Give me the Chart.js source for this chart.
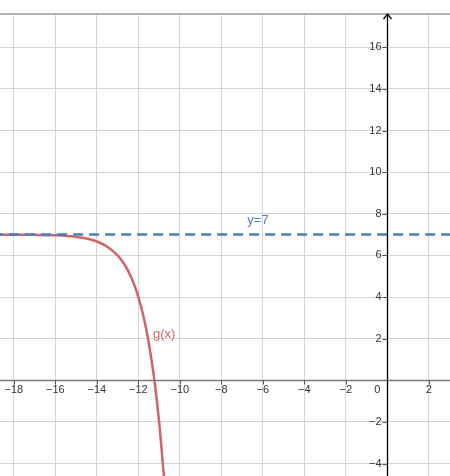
<!DOCTYPE html>
<html>
<head>
<meta charset="utf-8">
<script src="https://cdn.jsdelivr.net/npm/chart.js@4.4.1/dist/chart.umd.min.js"></script>
<style>
html, body { margin: 0; padding: 0; background: #fff; }
#wrap { width: 450px; height: 476px; }
</style>
</head>
<body>
<div id="wrap"><canvas id="c"></canvas></div>
<script>
// values
const curveX = [-18.7, -18, -17, -16, -15, -14.5, -14, -13.5, -13, -12.75, -12.5, -12.25, -12, -11.75, -11.5, -11.25, -11, -10.75];
const curveY = [6.998, 6.996, 6.988, 6.963, 6.889, 6.81, 6.667, 6.42, 6.0, 5.68, 5.27, 4.72, 4.0, 3.05, 1.8, 0.16, -2.0, -4.84];
const lineX = [-19, 4];
const lineY = [7, 7];
const xTicks = [-18, -16, -14, -12, -10, -8, -6, -4, -2, 0, 2];
const yTicks = [-4, -2, 2, 4, 6, 8, 10, 12, 14, 16];

const red = '#cf6666';
const blue = '#4a7cc0';
const fmt = v => String(v).replace('-', '\u2212');

const axesPlugin = {
  id: 'axes',
  afterDatasetsDraw(chart) {
    const { ctx, chartArea: a, scales: { x, y } } = chart;
    const x0 = Math.round(x.getPixelForValue(0)) + 0.5;
    const y0 = Math.round(y.getPixelForValue(0)) + 0.5;
    ctx.save();
    // top border
    ctx.strokeStyle = '#b4b4b4';
    ctx.lineWidth = 2;
    ctx.beginPath(); ctx.moveTo(0, a.top); ctx.lineTo(a.right, a.top); ctx.stroke();
    // x axis
    ctx.strokeStyle = '#777';
    ctx.lineWidth = 1.5;
    ctx.beginPath(); ctx.moveTo(a.left, y0); ctx.lineTo(a.right, y0); ctx.stroke();
    // y axis with arrow
    ctx.strokeStyle = '#000';
    ctx.lineWidth = 1.3;
    ctx.beginPath(); ctx.moveTo(x0, a.bottom); ctx.lineTo(x0, a.top); ctx.stroke();
    ctx.beginPath(); ctx.moveTo(x0 - 4, a.top + 5); ctx.lineTo(x0, a.top); ctx.lineTo(x0 + 4, a.top + 5); ctx.stroke();
    // tick marks
    ctx.strokeStyle = '#555';
    ctx.lineWidth = 1;
    yTicks.forEach(v => {
      const p = Math.round(y.getPixelForValue(v)) + 0.5;
      ctx.beginPath(); ctx.moveTo(x0 - 5, p); ctx.lineTo(x0, p); ctx.stroke();
    });
    xTicks.forEach(v => {
      if (v === 0) return;
      const p = Math.round(x.getPixelForValue(v)) + 0.5;
      ctx.beginPath(); ctx.moveTo(p, y0); ctx.lineTo(p, y0 + 4); ctx.stroke();
    });
    // tick labels
    ctx.fillStyle = '#333';
    ctx.font = '11px "Liberation Sans", Arial, sans-serif';
    ctx.textAlign = 'center';
    ctx.textBaseline = 'top';
    xTicks.forEach(v => {
      const p = x.getPixelForValue(v);
      ctx.fillText(fmt(v), v === 0 ? p - 10 : p, y0 + 4);
    });
    ctx.textAlign = 'right';
    ctx.textBaseline = 'middle';
    yTicks.forEach(v => {
      ctx.fillText(fmt(v), x0 - 6, y.getPixelForValue(v));
    });
    // object labels
    ctx.font = '13px "Liberation Sans", Arial, sans-serif';
    ctx.textAlign = 'left';
    ctx.fillStyle = blue;
    ctx.fillText('y=7', x.getPixelForValue(-6.75), y.getPixelForValue(7.7));
    ctx.fillStyle = red;
    ctx.fillText('g(x)', x.getPixelForValue(-11.3), y.getPixelForValue(2.2));
    ctx.restore();
  }
};

new Chart(document.getElementById('c'), {
  type: 'scatter',
  data: {
    datasets: [
      {
        label: 'y=7',
        data: lineX.map((v, i) => ({ x: v, y: lineY[i] })),
        showLine: true,
        borderColor: blue,
        borderWidth: 2.5,
        borderDash: [10, 6],
        pointRadius: 0,
        order: 0
      },
      {
        label: 'g(x)',
        data: curveX.map((v, i) => ({ x: v, y: curveY[i] })),
        showLine: true,
        borderColor: red,
        borderWidth: 2.5,
        cubicInterpolationMode: 'monotone',
        pointRadius: 0,
        order: 1
      }
    ]
  },
  options: {
    responsive: true,
    maintainAspectRatio: false,
    animation: false,
    layout: { padding: { top: 14, left: 0, right: 0, bottom: 0 } },
    plugins: { legend: { display: false }, tooltip: { enabled: false } },
    scales: {
      x: {
        type: 'linear',
        min: -18.67,
        max: 3.02,
        ticks: { stepSize: 2, display: false, includeBounds: false },
        grid: { color: '#d4d4d4', lineWidth: 1, drawTicks: false },
        border: { display: false },
        afterFit: s => { s.height = 0; }
      },
      y: {
        type: 'linear',
        min: -4.6,
        max: 17.6,
        ticks: { stepSize: 2, display: false, includeBounds: false },
        grid: { color: '#d4d4d4', lineWidth: 1, drawTicks: false },
        border: { display: false },
        afterFit: s => { s.width = 0; }
      }
    }
  },
  plugins: [axesPlugin]
});
</script>
</body>
</html>
